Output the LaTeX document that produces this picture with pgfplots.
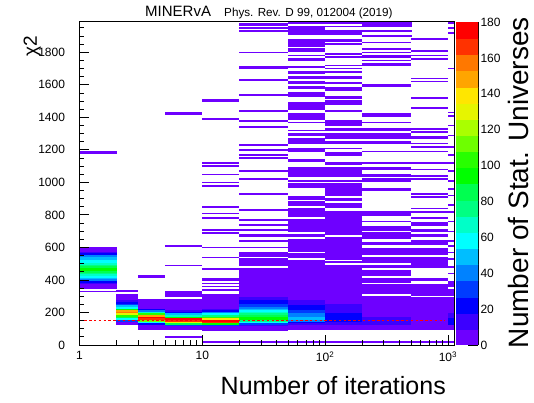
\documentclass[border=0pt]{standalone}
\usepackage{fontspec}
\setmainfont{Liberation Sans}
\usepackage{pgfplots}
\pgfplotsset{compat=1.18}
\pgfplotsset{colormap={rootpal}{rgb255(0pt)=(255,255,255); rgb255(1pt)=(110,0,255); rgb255(2pt)=(60,0,255); rgb255(3pt)=(0,0,255); rgb255(4pt)=(0,60,255); rgb255(5pt)=(0,130,255); rgb255(6pt)=(0,190,255); rgb255(7pt)=(0,255,255); rgb255(8pt)=(0,255,200); rgb255(9pt)=(0,255,130); rgb255(10pt)=(0,255,80); rgb255(11pt)=(0,255,0); rgb255(12pt)=(40,255,0); rgb255(13pt)=(110,255,0); rgb255(14pt)=(170,255,0); rgb255(15pt)=(230,245,0); rgb255(16pt)=(255,230,0); rgb255(17pt)=(255,165,0); rgb255(18pt)=(255,120,0); rgb255(19pt)=(255,50,0); rgb255(20pt)=(255,0,0)}}
\pgfplotsset{hsurf/.style={surf, shader=flat corner, mesh/cols=2, mesh/check=false, point meta=explicit, line width=0.05pt}}
\begin{document}
\begin{tikzpicture}[x=1pt,y=1pt]
\useasboundingbox (-79.5pt,-58pt) rectangle (454.5pt,345pt);
\begin{axis}[at={(0pt,0pt)}, anchor=south west, scale only axis, width=374.5pt, height=323pt,
 xmode=log, xmin=1, xmax=1120, ymin=0, ymax=1986,
 colormap name=rootpal, colormap access=direct,
 xtick={1,10,100,1000}, xticklabels={1,10,10\textsuperscript{2},10\textsuperscript{3}},
 minor xtick={2,3,4,5,6,7,8,9,20,30,40,50,60,70,80,90,200,300,400,500,600,700,800,900},
 ytick={0,200,400,600,800,1000,1200,1400,1600,1800},
 yticklabels={0,200,400,600,800,1000,1200,1400,1600,1800},
 minor ytick={0,50,...,1950},
 tick align=inside, tick pos=left, major tick length=10pt, minor tick length=5pt,
 tick style={black, line width=0.8pt},
 axis line style={line width=1pt},
 /pgf/number format/assume math mode=true,
 tick label style={font=\fontsize{12}{14}\selectfont},
 yticklabel style={xshift=-11pt},
 xticklabel style={yshift=-3pt},
 axis on top]
% column [1,2]
\addplot[hsurf] table[meta index=2] {
1 330 1
2 330 1
1 340 0
2 340 0
1 350 1
2 350 1
1 380 2
2 380 2
1 390 3
2 390 3
1 400 5
2 400 5
1 410 6
2 410 6
1 420 7
2 420 7
1 430 8
2 430 8
1 440 9
2 440 9
1 450 10
2 450 10
1 460 11
2 460 11
1 480 10
2 480 10
1 490 9
2 490 9
1 500 8
2 500 8
1 510 7
2 510 7
1 530 6
2 530 6
1 550 5
2 550 5
1 560 3
2 560 3
1 570 2
2 570 2
1 580 1
2 580 1
1 610 0
2 610 0
1 1180 1
2 1180 1
1 1190 0
2 1190 0
};
% column [2,3]
\addplot[hsurf] table[meta index=2] {
2 130 1
3 130 1
2 150 4
3 150 4
2 160 7
3 160 7
2 170 10
3 170 10
2 180 12
3 180 12
2 190 15
3 190 15
2 200 18
3 200 18
2 210 17
3 210 17
2 220 11
3 220 11
2 230 7
3 230 7
2 240 6
3 240 6
2 250 4
3 250 4
2 260 3
3 260 3
2 270 2
3 270 2
2 280 1
3 280 1
2 320 0
3 320 0
2 330 1
3 330 1
2 340 0
3 340 0
};
% column [3,5]
\addplot[hsurf] table[meta index=2] {
3 100 1
5 100 1
3 130 3
5 130 3
3 140 7
5 140 7
3 150 13
5 150 13
3 160 19
5 160 19
3 170 20
5 170 20
3 180 17
5 180 17
3 190 12
5 190 12
3 200 8
5 200 8
3 210 5
5 210 5
3 220 3
5 220 3
3 230 1
5 230 1
3 290 0
5 290 0
3 420 1
5 420 1
3 430 0
5 430 0
};
% column [5,10]
\addplot[hsurf] table[meta index=2] {
5 50 1
10 50 1
5 60 0
10 60 0
5 100 1
10 100 1
5 120 4
10 120 4
5 130 10
10 130 10
5 140 15
10 140 15
5 150 19
10 150 19
5 160 20
10 160 20
5 170 11
10 170 11
5 180 8
10 180 8
5 190 6
10 190 6
5 200 3
10 200 3
5 210 2
10 210 2
5 220 1
10 220 1
5 290 0
10 290 0
5 300 1
10 300 1
5 340 0
10 340 0
5 490 1
10 490 1
5 500 0
10 500 0
5 610 1
10 610 1
5 620 0
10 620 0
5 1420 1
10 1420 1
5 1430 0
10 1430 0
};
% column [10,20]
\addplot[hsurf] table[meta index=2] {
10 20 1
20 20 1
10 30 0
20 30 0
10 90 1
20 90 1
10 120 4
20 120 4
10 130 11
20 130 11
10 140 19
20 140 19
10 150 20
20 150 20
10 160 16
20 160 16
10 170 12
20 170 12
10 180 9
20 180 9
10 190 7
20 190 7
10 200 5
20 200 5
10 210 3
20 210 3
10 220 2
20 220 2
10 230 1
20 230 1
10 320 0
20 320 0
10 340 1
20 340 1
10 350 0
20 350 0
10 360 1
20 360 1
10 370 0
20 370 0
10 380 1
20 380 1
10 390 0
20 390 0
10 400 1
20 400 1
10 420 0
20 420 0
10 470 1
20 470 1
10 480 0
20 480 0
10 540 1
20 540 1
10 550 0
20 550 0
10 600 1
20 600 1
10 610 0
20 610 0
10 690 1
20 690 1
10 700 0
20 700 0
10 710 1
20 710 1
10 720 0
20 720 0
10 780 1
20 780 1
10 790 0
20 790 0
10 810 1
20 810 1
10 820 0
20 820 0
10 850 1
20 850 1
10 860 0
20 860 0
10 980 1
20 980 1
10 990 0
20 990 0
10 1000 1
20 1000 1
10 1010 0
20 1010 0
10 1050 1
20 1050 1
10 1060 0
20 1060 0
10 1100 1
20 1100 1
10 1110 0
20 1110 0
10 1120 1
20 1120 1
10 1130 0
20 1130 0
10 1390 1
20 1390 1
10 1400 0
20 1400 0
10 1500 1
20 1500 1
10 1510 0
20 1510 0
};
% column [20,50]
\addplot[hsurf] table[meta index=2] {
20 20 1
50 20 1
20 30 0
50 30 0
20 90 1
50 90 1
20 120 2
50 120 2
20 130 4
50 130 4
20 140 7
50 140 7
20 150 9
50 150 9
20 160 11
50 160 11
20 180 10
50 180 10
20 190 9
50 190 9
20 200 8
50 200 8
20 210 7
50 210 7
20 220 6
50 220 6
20 230 5
50 230 5
20 240 4
50 240 4
20 260 3
50 260 3
20 280 2
50 280 2
20 300 1
50 300 1
20 480 0
50 480 0
20 490 1
50 490 1
20 540 0
50 540 0
20 550 1
50 550 1
20 580 0
50 580 0
20 600 1
50 600 1
20 610 0
50 610 0
20 640 1
50 640 1
20 650 0
50 650 0
20 670 1
50 670 1
20 690 0
50 690 0
20 710 1
50 710 1
20 720 0
50 720 0
20 740 1
50 740 1
20 750 0
50 750 0
20 770 1
50 770 1
20 780 0
50 780 0
20 830 1
50 830 1
20 840 0
50 840 0
20 930 1
50 930 1
20 940 0
50 940 0
20 1020 1
50 1020 1
20 1030 0
50 1030 0
20 1070 1
50 1070 1
20 1080 0
50 1080 0
20 1150 1
50 1150 1
20 1160 0
50 1160 0
20 1170 1
50 1170 1
20 1180 0
50 1180 0
20 1200 1
50 1200 1
20 1210 0
50 1210 0
20 1230 1
50 1230 1
20 1240 0
50 1240 0
20 1340 1
50 1340 1
20 1350 0
50 1350 0
20 1380 1
50 1380 1
20 1390 0
50 1390 0
20 1440 1
50 1440 1
20 1450 0
50 1450 0
20 1540 1
50 1540 1
20 1550 0
50 1550 0
20 1630 1
50 1630 1
20 1640 0
50 1640 0
20 1700 1
50 1700 1
20 1720 0
50 1720 0
20 1800 1
50 1800 1
20 1810 0
50 1810 0
20 1930 1
50 1930 1
20 1940 0
50 1940 0
20 1950 1
50 1950 1
20 1960 0
50 1960 0
20 1970 1
50 1970 1
20 1980 0
50 1980 0
};
% column [50,100]
\addplot[hsurf] table[meta index=2] {
50 20 1
100 20 1
50 30 0
100 30 0
50 100 1
100 100 1
50 130 2
100 130 2
50 140 3
100 140 3
50 150 5
100 150 5
50 160 6
100 160 6
50 180 5
100 180 5
50 200 4
100 200 4
50 220 3
100 220 3
50 250 2
100 250 2
50 280 1
100 280 1
50 530 0
100 530 0
50 540 1
100 540 1
50 570 0
100 570 0
50 580 1
100 580 1
50 660 0
100 660 0
50 670 1
100 670 1
50 690 0
100 690 0
50 700 1
100 700 1
50 780 0
100 780 0
50 790 1
100 790 1
50 850 0
100 850 0
50 860 1
100 860 1
50 890 0
100 890 0
50 900 1
100 900 1
50 920 0
100 920 0
50 970 1
100 970 1
50 1000 0
100 1000 0
50 1010 1
100 1010 1
50 1020 0
100 1020 0
50 1040 1
100 1040 1
50 1100 0
100 1100 0
50 1130 1
100 1130 1
50 1150 0
100 1150 0
50 1190 1
100 1190 1
50 1220 0
100 1220 0
50 1240 1
100 1240 1
50 1280 0
100 1280 0
50 1290 1
100 1290 1
50 1310 0
100 1310 0
50 1320 1
100 1320 1
50 1330 0
100 1330 0
50 1370 1
100 1370 1
50 1380 0
100 1380 0
50 1390 1
100 1390 1
50 1430 0
100 1430 0
50 1450 1
100 1450 1
50 1500 0
100 1500 0
50 1530 1
100 1530 1
50 1560 0
100 1560 0
50 1580 1
100 1580 1
50 1600 0
100 1600 0
50 1610 1
100 1610 1
50 1630 0
100 1630 0
50 1640 1
100 1640 1
50 1660 0
100 1660 0
50 1670 1
100 1670 1
50 1690 0
100 1690 0
50 1710 1
100 1710 1
50 1720 0
100 1720 0
50 1750 1
100 1750 1
50 1770 0
100 1770 0
50 1780 1
100 1780 1
50 1790 0
100 1790 0
50 1810 1
100 1810 1
50 1830 0
100 1830 0
50 1840 1
100 1840 1
50 1890 0
100 1890 0
50 1910 1
100 1910 1
50 1970 0
100 1970 0
50 1980 1
100 1980 1
50 1990 0
100 1990 0
};
% column [100,200]
\addplot[hsurf] table[meta index=2] {
100 20 1
200 20 1
100 30 0
200 30 0
100 100 1
200 100 1
100 130 2
200 130 2
100 150 3
200 150 3
100 200 2
200 200 2
100 260 1
200 260 1
100 500 0
200 500 0
100 510 1
200 510 1
100 520 0
200 520 0
100 530 1
200 530 1
100 670 0
200 670 0
100 680 1
200 680 1
100 830 0
200 830 0
100 850 1
200 850 1
100 880 0
200 880 0
100 890 1
200 890 1
100 910 0
200 910 0
100 920 1
200 920 1
100 1000 0
200 1000 0
100 1010 1
200 1010 1
100 1020 0
200 1020 0
100 1040 1
200 1040 1
100 1100 0
200 1100 0
100 1110 1
200 1110 1
100 1130 0
200 1130 0
100 1170 1
200 1170 1
100 1190 0
200 1190 0
100 1210 1
200 1210 1
100 1220 0
200 1220 0
100 1240 1
200 1240 1
100 1260 0
200 1260 0
100 1270 1
200 1270 1
100 1310 0
200 1310 0
100 1320 1
200 1320 1
100 1340 0
200 1340 0
100 1350 1
200 1350 1
100 1390 0
200 1390 0
100 1440 1
200 1440 1
100 1450 0
200 1450 0
100 1480 1
200 1480 1
100 1510 0
200 1510 0
100 1520 1
200 1520 1
100 1540 0
200 1540 0
100 1570 1
200 1570 1
100 1590 0
200 1590 0
100 1610 1
200 1610 1
100 1620 0
200 1620 0
100 1640 1
200 1640 1
100 1660 0
200 1660 0
100 1680 1
200 1680 1
100 1690 0
200 1690 0
100 1700 1
200 1700 1
100 1710 0
200 1710 0
100 1720 1
200 1720 1
100 1730 0
200 1730 0
100 1770 1
200 1770 1
100 1780 0
200 1780 0
100 1790 1
200 1790 1
100 1800 0
200 1800 0
100 1850 1
200 1850 1
100 1860 0
200 1860 0
100 1870 1
200 1870 1
100 1890 0
200 1890 0
100 1910 1
200 1910 1
100 1940 0
200 1940 0
100 1960 1
200 1960 1
100 1970 0
200 1970 0
100 1980 1
200 1980 1
100 1990 0
200 1990 0
};
% column [200,500]
\addplot[hsurf] table[meta index=2] {
200 20 1
500 20 1
200 30 0
500 30 0
200 100 1
500 100 1
200 130 2
500 130 2
200 180 1
500 180 1
200 310 0
500 310 0
200 320 1
500 320 1
200 380 0
500 380 0
200 390 1
500 390 1
200 420 0
500 420 0
200 430 1
500 430 1
200 470 0
500 470 0
200 480 1
500 480 1
200 500 0
500 500 0
200 510 1
500 510 1
200 550 0
500 550 0
200 560 1
500 560 1
200 600 0
500 600 0
200 620 1
500 620 1
200 640 0
500 640 0
200 660 1
500 660 1
200 700 0
500 700 0
200 710 1
500 710 1
200 740 0
500 740 0
200 760 1
500 760 1
200 770 0
500 770 0
200 800 1
500 800 1
200 830 0
500 830 0
200 950 1
500 950 1
200 970 0
500 970 0
200 1010 1
500 1010 1
200 1030 0
500 1030 0
200 1040 1
500 1040 1
200 1060 0
500 1060 0
200 1080 1
500 1080 1
200 1100 0
500 1100 0
200 1120 1
500 1120 1
200 1130 0
500 1130 0
200 1190 1
500 1190 1
200 1200 0
500 1200 0
200 1240 1
500 1240 1
200 1260 0
500 1260 0
200 1270 1
500 1270 1
200 1310 0
500 1310 0
200 1320 1
500 1320 1
200 1340 0
500 1340 0
200 1370 1
500 1370 1
200 1380 0
500 1380 0
200 1410 1
500 1410 1
200 1430 0
500 1430 0
200 1590 1
500 1590 1
200 1610 0
500 1610 0
200 1720 1
500 1720 1
200 1740 0
500 1740 0
200 1750 1
500 1750 1
200 1760 0
500 1760 0
200 1770 1
500 1770 1
200 1790 0
500 1790 0
200 1800 1
500 1800 1
200 1810 0
500 1810 0
200 1820 1
500 1820 1
200 1830 0
500 1830 0
200 1860 1
500 1860 1
200 1870 0
500 1870 0
200 1900 1
500 1900 1
200 1910 0
500 1910 0
200 1930 1
500 1930 1
200 1940 0
500 1940 0
200 1960 1
500 1960 1
200 1990 0
500 1990 0
};
% column [500,1000]
\addplot[hsurf] table[meta index=2] {
500 20 1
1000 20 1
500 30 0
1000 30 0
500 100 1
1000 100 1
500 300 0
1000 300 0
500 310 1
1000 310 1
500 380 0
1000 380 0
500 400 1
1000 400 1
500 420 0
1000 420 0
500 480 1
1000 480 1
500 550 0
1000 550 0
500 560 1
1000 560 1
500 600 0
1000 600 0
500 620 1
1000 620 1
500 650 0
1000 650 0
500 670 1
1000 670 1
500 690 0
1000 690 0
500 700 1
1000 700 1
500 720 0
1000 720 0
500 740 1
1000 740 1
500 760 0
1000 760 0
500 780 1
1000 780 1
500 790 0
1000 790 0
500 820 1
1000 820 1
500 830 0
1000 830 0
500 840 1
1000 840 1
500 850 0
1000 850 0
500 910 1
1000 910 1
500 920 0
1000 920 0
500 930 1
1000 930 1
500 940 0
1000 940 0
500 1020 1
1000 1020 1
500 1030 0
1000 1030 0
500 1040 1
1000 1040 1
500 1050 0
1000 1050 0
500 1080 1
1000 1080 1
500 1090 0
1000 1090 0
500 1120 1
1000 1120 1
500 1130 0
1000 1130 0
500 1190 1
1000 1190 1
500 1200 0
1000 1200 0
500 1220 1
1000 1220 1
500 1230 0
1000 1230 0
500 1240 1
1000 1240 1
500 1250 0
1000 1250 0
500 1270 1
1000 1270 1
500 1290 0
1000 1290 0
500 1310 1
1000 1310 1
500 1320 0
1000 1320 0
500 1330 1
1000 1330 1
500 1340 0
1000 1340 0
500 1460 1
1000 1460 1
500 1470 0
1000 1470 0
500 1520 1
1000 1520 1
500 1530 0
1000 1530 0
500 1620 1
1000 1620 1
500 1630 0
1000 1630 0
500 1640 1
1000 1640 1
500 1650 0
1000 1650 0
500 1760 1
1000 1760 1
500 1770 0
1000 1770 0
500 1780 1
1000 1780 1
500 1790 0
1000 1790 0
500 1810 1
1000 1810 1
500 1820 0
1000 1820 0
500 1880 1
1000 1880 1
500 1890 0
1000 1890 0
};
% column [1000,1100]
\addplot[hsurf] table[meta index=2] {
1000 20 1
1100 20 1
1000 30 0
1100 30 0
1000 100 1
1100 100 1
1000 130 3
1100 130 3
1000 170 2
1100 170 2
1000 200 1
1100 200 1
1000 300 0
1100 300 0
1000 310 1
1100 310 1
1000 350 0
1100 350 0
1000 360 1
1100 360 1
1000 400 0
1100 400 0
1000 440 1
1100 440 1
1000 450 0
1100 450 0
1000 480 1
1100 480 1
1000 490 0
1100 490 0
1000 530 1
1100 530 1
1000 540 0
1100 540 0
1000 570 1
1100 570 1
1000 580 0
1100 580 0
1000 610 1
1100 610 1
1000 620 0
1100 620 0
1000 640 1
1100 640 1
1000 650 0
1100 650 0
1000 700 1
1100 700 1
1000 710 0
1100 710 0
1000 760 1
1100 760 1
1000 770 0
1100 770 0
1000 820 1
1100 820 1
1000 830 0
1100 830 0
1000 860 1
1100 860 1
1000 870 0
1100 870 0
1000 920 1
1100 920 1
1000 930 0
1100 930 0
1000 960 1
1100 960 1
1000 970 0
1100 970 0
1000 1010 1
1100 1010 1
1000 1020 0
1100 1020 0
1000 1070 1
1100 1070 1
1000 1080 0
1100 1080 0
1000 1120 1
1100 1120 1
1000 1130 0
1100 1130 0
1000 1170 1
1100 1170 1
1000 1180 0
1100 1180 0
1000 1220 1
1100 1220 1
1000 1230 0
1100 1230 0
1000 1290 1
1100 1290 1
1000 1300 0
1100 1300 0
1000 1350 1
1100 1350 1
1000 1360 0
1100 1360 0
1000 1410 1
1100 1410 1
1000 1420 0
1100 1420 0
1000 1430 1
1100 1430 1
1000 1440 0
1100 1440 0
1000 1700 1
1100 1700 1
1000 1710 0
1100 1710 0
1000 1920 1
1100 1920 1
1000 1930 0
1100 1930 0
1000 1950 1
1100 1950 1
1000 1960 0
1100 1960 0
1000 1980 1
1100 1980 1
1000 1990 0
1100 1990 0
};
\addplot[red, line width=1.6pt, dash pattern=on 2.4pt off 2.4pt] coordinates {(1,150) (950,150)};
\end{axis}
% palette
\begin{axis}[at={(376.5pt,0pt)}, anchor=south west, scale only axis, width=22pt, height=323pt,
 xmin=0, xmax=1, ymin=0, ymax=180, hide x axis, axis y line*=right,
 colormap name=rootpal, colormap access=direct,
 ytick={0,20,40,60,80,100,120,140,160,180}, yticklabels={0,20,40,60,80,100,120,140,160,180},
 tick align=inside, major tick length=10pt, tick style={black, line width=0.8pt},
 axis line style={line width=1pt},
 tick label style={font=\fontsize{12}{14}\selectfont},
 yticklabel style={xshift=-1pt}]
\addplot[hsurf] table[meta index=2] {
0 0 1
1 0 1
0 9 2
1 9 2
0 18 3
1 18 3
0 27 4
1 27 4
0 36 5
1 36 5
0 45 6
1 45 6
0 54 7
1 54 7
0 63 8
1 63 8
0 72 9
1 72 9
0 81 10
1 81 10
0 90 11
1 90 11
0 99 12
1 99 12
0 108 13
1 108 13
0 117 14
1 117 14
0 126 15
1 126 15
0 135 16
1 135 16
0 144 17
1 144 17
0 153 18
1 153 18
0 162 19
1 162 19
0 171 20
1 171 20
0 180 0
1 180 0
};
\end{axis}
\node[anchor=base west, inner sep=0, font=\fontsize{15}{15}\selectfont] at (65.5pt,328pt) {MINERvA};
\node[anchor=base west, inner sep=0, font=\fontsize{11.7}{12}\selectfont] at (144.5pt,328pt) {Phys. Rev. D 99, 012004 (2019)};
\node[rotate=90, anchor=base east, inner sep=0, font=\fontsize{19}{19}\selectfont] at (-42.5pt,309pt) {χ2};
\node[rotate=90, anchor=base east, inner sep=0, font=\fontsize{28}{28}\selectfont] at (448.5pt,328pt) {Number of Stat. Universes};
\node[anchor=base east, inner sep=0, font=\fontsize{25}{25}\selectfont] at (366.5pt,-49pt) {Number of iterations};
\end{tikzpicture}
\end{document}
